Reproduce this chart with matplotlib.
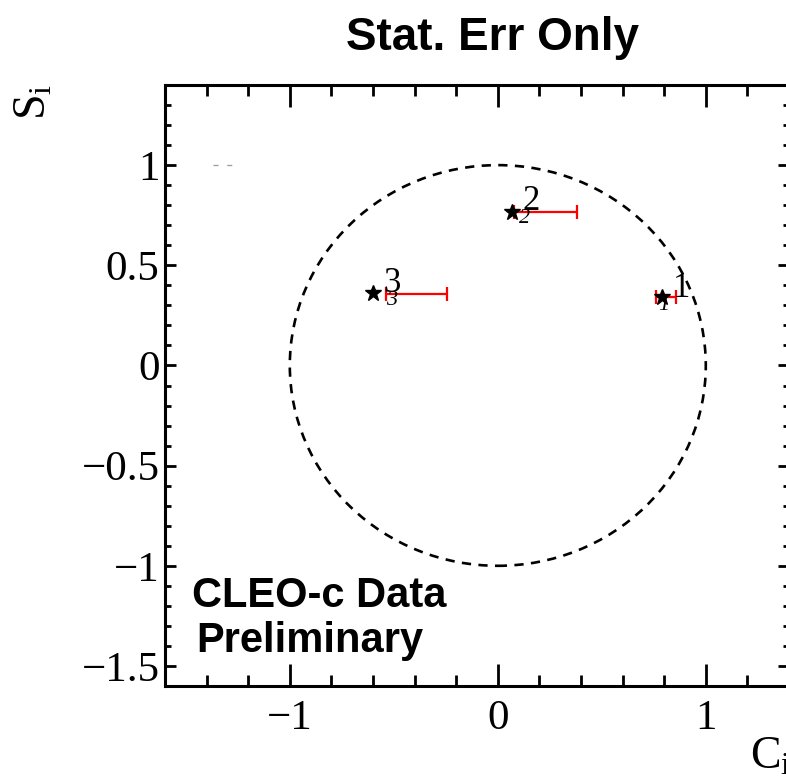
import matplotlib
matplotlib.use("Agg")
import matplotlib.pyplot as plt
from matplotlib.patches import Circle
from matplotlib.ticker import MultipleLocator

plt.rcParams['mathtext.fontset'] = 'custom'
plt.rcParams['mathtext.rm'] = 'Liberation Serif'
plt.rcParams['mathtext.it'] = 'Liberation Serif:italic'

# Bin labels and values
bins = ["1", "2", "3"]
pred_c = [0.79, 0.07, -0.60]
pred_s = [0.34, 0.765, 0.36]
meas_c = [0.81, 0.23, -0.39]
meas_c_err = [0.048, 0.15, 0.147]
meas_s = [0.34, 0.765, 0.355]

x_ticks = [-1, 0, 1]
y_ticks = [-1.5, -1, -0.5, 0, 0.5, 1]

fig = plt.figure(figsize=(7.86, 7.79), dpi=100)
ax = fig.add_axes([165 / 786, 1 - 686 / 779, (789 - 165) / 786, (686 - 85) / 779])
ax.set_xlim(-1.6, 1.4)
ax.set_ylim(-1.6, 1.4)

# unit circle
ax.add_patch(Circle((0, 0), 1.0, fill=False, ls=(0, (3.5, 2.8)), lw=1.9, color='black'))

# stray legend stub
ax.plot([-1.37, -1.26], [1.0, 1.0], ls=(0, (4, 7)), lw=0.9, color='#999999')

# measured C_i with stat errors
ax.errorbar(meas_c, meas_s, xerr=meas_c_err, fmt='none', ecolor='#ff0000',
            elinewidth=1.6, capsize=5, capthick=1.6, zorder=3)

# predicted points
ax.plot(pred_c, pred_s, ls='none', marker='*', ms=12, color='black', zorder=4)

big_off = [(14.4, 6.5), (13.7, 8.0), (13.7, 7.2)]
small_off = [(1.4, -5.8), (8.6, -4.3), (13.7, -5.0)]
for lab, c, s, bo, so in zip(bins, pred_c, pred_s, big_off, small_off):
    ax.annotate(lab, (c, s), xytext=bo, textcoords='offset points', ha='center',
                va='center', fontsize=25, family='Liberation Serif', zorder=5)
    ax.annotate(lab, (c, s), xytext=so, textcoords='offset points', ha='center',
                va='center', fontsize=16, family='Liberation Serif', style='italic',
                zorder=5)

# axes styling
ax.set_xticks(x_ticks)
ax.set_yticks(y_ticks)
ax.set_xticklabels(["\u22121", "0", "1"])
ax.set_yticklabels(["\u22121.5", "\u22121", "\u22120.5", "0", "0.5", "1"])
ax.xaxis.set_minor_locator(MultipleLocator(0.2))
ax.yaxis.set_minor_locator(MultipleLocator(0.1))
for sp in ax.spines.values():
    sp.set_linewidth(2.2)
ax.tick_params(axis='both', which='both', direction='in', top=True, right=True,
               width=2.0, labelsize=31)
ax.tick_params(axis='x', which='major', length=16, pad=10)
ax.tick_params(axis='x', which='minor', length=8)
ax.tick_params(axis='y', which='major', length=8, pad=4)
ax.tick_params(axis='y', which='minor', length=4.5)
for lbl in ax.get_xticklabels() + ax.get_yticklabels():
    lbl.set_family('Liberation Serif')

# title and annotations
fig.text(493 / 786, 1 - 38 / 779, "Stat. Err Only", ha='center', va='center',
         fontsize=33, fontweight='bold', family='Liberation Sans')
ax.text(-1.47, -1.15, "CLEO-c Data", ha='left', va='center', fontsize=30,
        fontweight='bold', family='Liberation Sans')
ax.text(-1.45, -1.375, "Preliminary", ha='left', va='center', fontsize=30,
        fontweight='bold', family='Liberation Sans')

# axis labels
fig.text(56 / 786, 1 - 84 / 779, r"$\mathrm{S}_\mathrm{i}$", rotation=90,
         ha='right', va='top', fontsize=33)
fig.text(750 / 786, 1 - 779 / 779, r"$\mathrm{C}_\mathrm{i}$", ha='left',
         va='bottom', fontsize=33)

fig.savefig("out.png", dpi=100)
